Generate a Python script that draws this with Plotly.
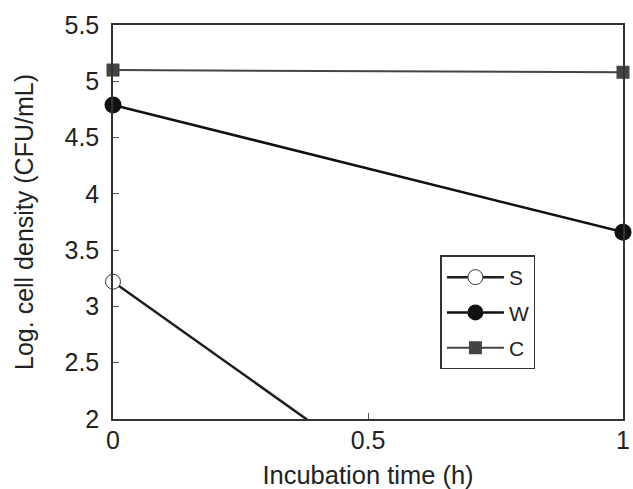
import plotly.graph_objects as go

time_h = [0, 1]
series_names = ["S", "W", "C"]
s_vals = [3.22, 0.0]
w_vals = [4.79, 3.66]
c_vals = [5.10, 5.08]

x_tickvals = [0, 0.5, 1]
x_ticktext = ["0", "0.5", "1"]
y_tickvals = [2, 2.5, 3, 3.5, 4, 4.5, 5, 5.5]
y_ticktext = ["2", "2.5", "3", "3.5", "4", "4.5", "5", "5.5"]

FONT = "Liberation Sans, Arial, Helvetica, sans-serif"

fig = go.Figure()
fig.add_trace(go.Scatter(
    x=time_h, y=s_vals, name=series_names[0], mode="lines+markers",
    line=dict(color="#1e1e1e", width=2.5),
    marker=dict(symbol="circle", size=15, color="white", line=dict(color="#333", width=1)),
    cliponaxis=False, legendgroup="s"))
fig.add_trace(go.Scatter(
    x=time_h, y=w_vals, name=series_names[1], mode="lines+markers",
    line=dict(color="#111", width=2.5),
    marker=dict(symbol="circle", size=17, color="#111"),
    cliponaxis=False, legendgroup="w"))
fig.add_trace(go.Scatter(
    x=time_h, y=c_vals, name=series_names[2], mode="lines+markers",
    line=dict(color="#444", width=2),
    marker=dict(symbol="square", size=13, color="#444"),
    cliponaxis=False, legendgroup="c"))

axis_common = dict(
    showline=True, linecolor="#333", linewidth=1.5, mirror=True,
    ticks="inside", ticklen=6, tickcolor="#555", tickwidth=1,
    showgrid=False, zeroline=False, ticklabeloverflow="allow",
    tickfont=dict(family=FONT, size=25, color="#222"),
)

fig.update_xaxes(range=[0, 1], tickvals=x_tickvals, ticktext=x_ticktext,
                 ticklabelstandoff=-2,
                 title=dict(text="Incubation time (h)", font=dict(family=FONT, size=25.5, color="#222"), standoff=14),
                 **axis_common)
fig.update_yaxes(range=[2, 5.5], tickvals=y_tickvals, ticktext=y_ticktext,
                 ticklabelstandoff=7,
                 title=dict(text="Log. cell density (CFU/mL)", font=dict(family=FONT, size=25, color="#222"), standoff=24),
                 **axis_common)

fig.update_layout(
    width=633, height=489,
    margin=dict(l=113, r=3, t=25, b=69),
    paper_bgcolor="white", plot_bgcolor="white",
    showlegend=True,
    legend=dict(x=0.642, y=0.415, xanchor="left", yanchor="top",
                bgcolor="white", bordercolor="#333", borderwidth=1.5,
                font=dict(family=FONT, size=21, color="#222"),
                tracegroupgap=5, itemwidth=57),
    font=dict(family=FONT, color="#222"),
)

fig.write_html(
    "out.html",
    config={"displayModeBar": False},
    post_script="document.body.style.margin='0';document.body.style.overflow='hidden';",
)
